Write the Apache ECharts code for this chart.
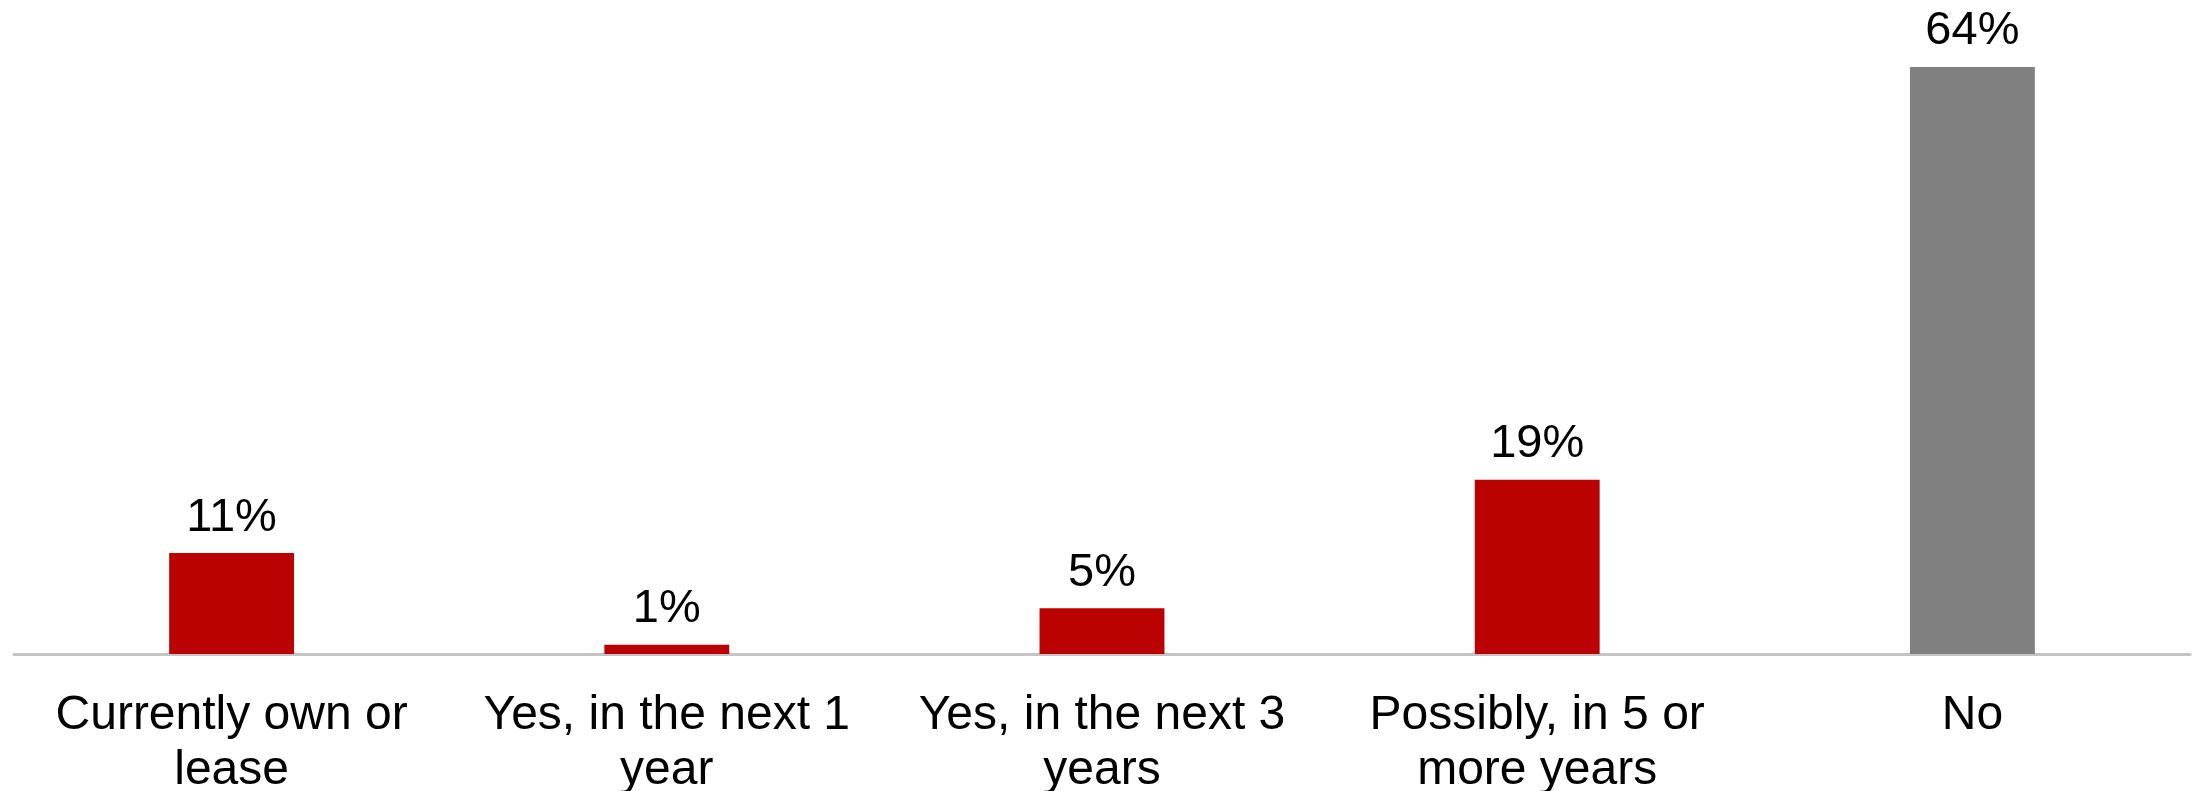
<!DOCTYPE html>
<html>
<head>
<meta charset="utf-8">
<script src="https://cdn.jsdelivr.net/npm/echarts@6/dist/echarts.min.js"></script>
<style>
  html, body { margin: 0; padding: 0; background: #ffffff; }
  #chart { width: 2199px; height: 791px; }
</style>
</head>
<body>
<div id="chart"></div>
<script>
// Survey answers and share of respondents (%)
const categories = [
  'Currently own or lease',
  'Yes, in the next 1 year',
  'Yes, in the next 3 years',
  'Possibly, in 5 or more years',
  'No'
];
const values = [11, 1, 5, 19, 64];
const barColors = ['#BA0202', '#BA0202', '#BA0202', '#BA0202', '#808080'];

const FONT = '"Liberation Sans", Arial, sans-serif';
const LABEL_SIZE = 48;
const WRAP_WIDTH = 410;

// Greedy word wrap without trailing spaces, so each line stays centred
const measureCtx = document.createElement('canvas').getContext('2d');
measureCtx.font = LABEL_SIZE + 'px ' + FONT;
function wrapLabel(text) {
  const words = text.split(' ');
  const lines = [];
  let line = '';
  words.forEach(w => {
    const test = line ? line + ' ' + w : w;
    if (line && measureCtx.measureText(test).width > WRAP_WIDTH) {
      lines.push(line);
      line = w;
    } else {
      line = test;
    }
  });
  if (line) lines.push(line);
  return lines.join('\n');
}

const chart = echarts.init(document.getElementById('chart'), null, { renderer: 'canvas' });

chart.setOption({
  animation: false,
  backgroundColor: '#ffffff',
  textStyle: { fontFamily: FONT },
  grid: {
    left: 14, right: 9, top: 12, bottom: 137,
    containLabel: false,
    outerBoundsMode: 'none'
  },
  xAxis: {
    type: 'category',
    data: categories,
    axisLine: { show: true, lineStyle: { color: '#C4C4C4', width: 3 } },
    axisTick: { show: false },
    axisLabel: {
      interval: 0,
      color: '#000000',
      fontSize: LABEL_SIZE,
      lineHeight: 55,
      margin: 34,
      fontFamily: FONT,
      formatter: wrapLabel
    }
  },
  yAxis: {
    type: 'value',
    min: 0,
    max: 70,
    show: false,
    splitLine: { show: false }
  },
  series: [{
    type: 'bar',
    barWidth: '28.7%',
    data: values.map((v, i) => ({ value: v, itemStyle: { color: barColors[i] } })),
    label: {
      show: true,
      position: 'top',
      distance: 12,
      color: '#000000',
      fontSize: 47,
      fontFamily: FONT,
      formatter: p => p.value + '%'
    }
  }]
});
</script>
</body>
</html>
